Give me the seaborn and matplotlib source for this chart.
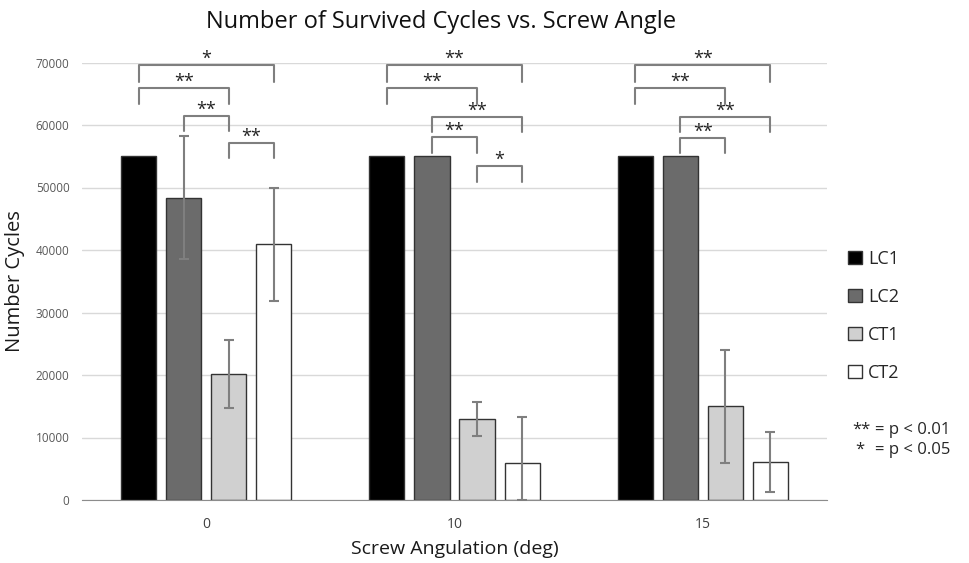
import matplotlib
matplotlib.use("Agg")
import matplotlib.pyplot as plt
import seaborn as sns
import pandas as pd

# === Data ===
angles = ["0", "10", "15"]
groups = ["LC1", "LC2", "CT1", "CT2"]
lc1 = [55000, 55000, 55000]
lc2 = [48400, 55000, 55000]
ct1 = [20200, 13000, 15000]
ct2 = [40900, 5900, 6100]
lc1_err = [0, 0, 0]
lc2_err = [9900, 0, 0]
ct1_err = [5400, 2700, 9000]
ct2_err = [9000, 7450, 4800]

# significance brackets: angle index, left group, right group, bracket top, leg end, label
brackets = [
    (0, "LC1", "CT2", 69600, 66900, "*"),
    (0, "LC1", "CT1", 65900, 63400, "**"),
    (0, "LC2", "CT1", 61500, 59100, "**"),
    (0, "CT1", "CT2", 57200, 54800, "**"),
    (1, "LC1", "CT2", 69600, 66900, "**"),
    (1, "LC1", "CT1", 65900, 63400, "**"),
    (1, "LC2", "CT2", 61300, 58900, "**"),
    (1, "LC2", "CT1", 58100, 55500, "**"),
    (1, "CT1", "CT2", 53500, 50900, "*"),
    (2, "LC1", "CT2", 69600, 66900, "**"),
    (2, "LC1", "CT1", 65900, 63400, "**"),
    (2, "LC2", "CT2", 61300, 58900, "**"),
    (2, "LC2", "CT1", 58000, 55500, "**"),
]

values = {"LC1": lc1, "LC2": lc2, "CT1": ct1, "CT2": ct2}
errors = {"LC1": lc1_err, "LC2": lc2_err, "CT1": ct1_err, "CT2": ct2_err}
palette = {"LC1": "#000000", "LC2": "#6b6b6b", "CT1": "#d0d0d0", "CT2": "#ffffff"}

df = pd.DataFrame(
    [(a, g, values[g][i]) for g in groups for i, a in enumerate(angles)],
    columns=["angle", "group", "cycles"],
)

# === Style ===
sns.set_style("white")
plt.rcParams["font.family"] = ["Open Sans", "DejaVu Sans"]

fig = plt.figure(figsize=(9.7, 5.63), dpi=100)
ax = fig.add_axes([82 / 970, 63 / 563, 745 / 970, 437.5 / 563])

sns.barplot(data=df, x="angle", y="cycles", hue="group", order=angles,
            hue_order=groups, palette=palette, width=0.726, gap=0.22,
            errorbar=None, edgecolor="#333333", linewidth=1, ax=ax)

# === Error bars and bar centres ===
centers = {}
for g, cont in zip(groups, ax.containers):
    centers[g] = []
    for i, bar in enumerate(cont):
        x = bar.get_x() + bar.get_width() / 2
        centers[g].append(x)
        err = errors[g][i]
        if err > 0:
            v = values[g][i]
            ax.errorbar(x, v, yerr=[[min(err, v)], [err]], fmt="none",
                        ecolor="#7f7f7f", elinewidth=1.5, capsize=3.5,
                        capthick=1.5, zorder=3)

# === Significance brackets ===
for a, g1, g2, top, leg, lab in brackets:
    x1 = centers[g1][a]
    x2 = centers[g2][a]
    ax.plot([x1, x1, x2, x2], [leg, top, top, leg], color="#7f7f7f",
            lw=1.5, clip_on=False, zorder=4)
    ax.text((x1 + x2) / 2, top + 150, lab, ha="center", va="baseline",
            fontsize=13, color="#222222", clip_on=False)

# === Axes formatting ===
ax.set_ylim(0, 70000)
ax.set_xlim(-0.5, 2.5)
ax.set_yticks(range(0, 70001, 10000))
ax.yaxis.grid(True, color="#d9d9d9", lw=1)
ax.set_axisbelow(True)
sns.despine(ax=ax, left=True)
ax.spines["bottom"].set_color("#8c8c8c")
ax.tick_params(axis="y", length=0, labelsize=8.5, colors="#595959", pad=9)
ax.tick_params(axis="x", length=0, labelsize=10, colors="#404040", pad=12)

ax.set_xlabel("Screw Angulation (deg)", fontsize=14, color="#1a1a1a", labelpad=6)
ax.set_ylabel("Number Cycles", fontsize=14.5, color="#1a1a1a", labelpad=8)
fig.text(441 / 970, 1 - 22 / 563, "Number of Survived Cycles vs. Screw Angle",
         ha="center", va="center", fontsize=17, color="#111111")

# === Legend ===
handles, labels = ax.get_legend_handles_labels()
ax.legend(handles, labels, loc="upper left",
          bbox_to_anchor=(848 / 970, 1 - 250 / 563),
          bbox_transform=fig.transFigure, frameon=False, fontsize=13,
          handlelength=0.75, handleheight=0.75, handletextpad=0.35,
          labelspacing=1.1, borderpad=0, borderaxespad=0)

fig.text(871 / 970, 1 - 430 / 563, "**", ha="right", va="center", fontsize=12)
fig.text(875 / 970, 1 - 430 / 563, "= p < 0.01", ha="left", va="center", fontsize=12)
fig.text(864 / 970, 1 - 450 / 563, "*", ha="right", va="center", fontsize=12)
fig.text(875 / 970, 1 - 450 / 563, "= p < 0.05", ha="left", va="center", fontsize=12)

fig.savefig("out.png", dpi=100)
